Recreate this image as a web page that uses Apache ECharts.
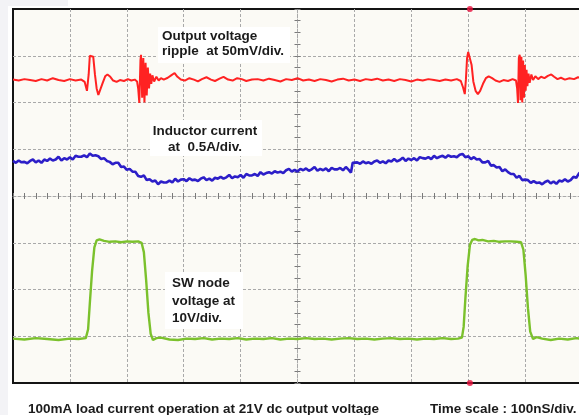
<!DOCTYPE html>
<html><head><meta charset="utf-8">
<script src="https://cdn.jsdelivr.net/npm/echarts@6/dist/echarts.min.js"></script>
<style>html,body{margin:0;padding:0;background:#fff}#c{width:579px;height:415px}</style>
</head><body><div id="c"></div>
<script>
// Time axis in ns relative to screen centre (100 ns/div), vertical in screen divisions
const xTicks = {min: -500, max: 500, step: 100};
const yTicks = {min: -4, max: 4, step: 1};

const redRipple = [[-500,2.49],[-490,2.47],[-480,2.50],[-470,2.48],[-460,2.46],[-450,2.50],[-440,2.47],[-430,2.52],[-420,2.48],[-410,2.46],[-400,2.50],[-390,2.47],[-380,2.49],[-374,2.44],[-370,2.25],[-367,2.6],[-365,3.0],[-362,3.04],[-359,2.98],[-356,2.6],[-353,2.3],[-350,2.16],[-347,2.2],[-343,2.4],[-338,2.56],[-334,2.6],[-329,2.55],[-324,2.47],[-318,2.44],[-312,2.48],[-305,2.46],[-298,2.5],[-292,2.47],[-286,2.49],[-282,2.45],[-280,2.3],[-278,1.99],[-276,2.9],[-275,3.02],[-273,2.1],[-271,2.95],[-269,2.0],[-267,2.85],[-265,2.15],[-263,2.75],[-261,2.3],[-259,2.62],[-257,2.4],[-255,2.58],[-252,2.45],[-248,2.55],[-244,2.47],[-240,2.52],[-235,2.49],[-228,2.53],[-222,2.58],[-216,2.63],[-211,2.55],[-205,2.49],[-198,2.47],[-190,2.52],[-182,2.49],[-175,2.45],[-168,2.50],[-160,2.54],[-152,2.49],[-145,2.46],[-137,2.51],[-130,2.55],[-122,2.49],[-114,2.47],[-106,2.52],[-98,2.50],[-90,2.46],[-80,2.49],[-70,2.50],[-60,2.47],[-50,2.51],[-40,2.48],[-30,2.45],[-20,2.50],[-10,2.48],[0,2.52],[10,2.47],[20,2.49],[30,2.46],[40,2.50],[50,2.48],[60,2.45],[70,2.49],[80,2.51],[90,2.47],[100,2.49],[110,2.46],[120,2.50],[130,2.48],[140,2.51],[150,2.47],[160,2.49],[170,2.46],[180,2.50],[190,2.48],[200,2.45],[210,2.49],[220,2.47],[230,2.50],[240,2.48],[250,2.46],[260,2.49],[270,2.47],[280,2.50],[287,2.46],[291,2.32],[294,2.18],[296,2.5],[298,2.95],[300,3.08],[303,3.05],[306,2.8],[309,2.45],[313,2.25],[317,2.18],[321,2.25],[326,2.4],[331,2.52],[336,2.56],[342,2.52],[348,2.47],[355,2.44],[362,2.48],[370,2.46],[378,2.5],[384,2.47],[386,2.3],[387.5,1.99],[389,2.95],[390.5,3.02],[392,2.05],[393.5,2.98],[395,2.0],[396.5,2.9],[398,2.1],[399.5,2.8],[401,2.25],[402.5,2.7],[404,2.35],[406,2.62],[408,2.42],[411,2.6],[414,2.48],[418,2.56],[423,2.5],[428,2.55],[434,2.52],[440,2.57],[446,2.6],[451,2.55],[457,2.5],[463,2.53],[470,2.49],[478,2.52],[486,2.5],[493,2.54],[500,2.52]];

const blueCurrent = [[-500,0.75],[-495,0.71],[-490,0.76],[-485,0.72],[-480,0.73],[-475,0.70],[-470,0.75],[-465,0.78],[-460,0.72],[-455,0.76],[-450,0.71],[-445,0.78],[-440,0.75],[-435,0.80],[-430,0.76],[-425,0.78],[-420,0.84],[-415,0.76],[-410,0.81],[-405,0.78],[-400,0.83],[-395,0.78],[-390,0.86],[-385,0.84],[-380,0.84],[-375,0.87],[-370,0.83],[-365,0.91],[-360,0.86],[-355,0.87],[-350,0.85],[-345,0.79],[-340,0.81],[-335,0.75],[-330,0.73],[-325,0.68],[-320,0.71],[-315,0.71],[-310,0.62],[-305,0.63],[-300,0.56],[-295,0.58],[-290,0.52],[-285,0.52],[-280,0.43],[-275,0.41],[-270,0.44],[-265,0.34],[-260,0.36],[-255,0.31],[-250,0.33],[-245,0.25],[-240,0.31],[-235,0.29],[-230,0.29],[-225,0.33],[-220,0.29],[-215,0.37],[-210,0.31],[-205,0.35],[-200,0.36],[-195,0.32],[-190,0.38],[-185,0.34],[-180,0.35],[-175,0.32],[-170,0.37],[-165,0.40],[-160,0.34],[-155,0.37],[-150,0.33],[-145,0.39],[-140,0.37],[-135,0.41],[-130,0.37],[-125,0.40],[-120,0.45],[-115,0.38],[-110,0.42],[-105,0.40],[-100,0.45],[-95,0.39],[-90,0.47],[-85,0.44],[-80,0.44],[-75,0.47],[-70,0.43],[-65,0.51],[-60,0.46],[-55,0.49],[-50,0.51],[-45,0.48],[-40,0.53],[-35,0.50],[-30,0.52],[-25,0.49],[-20,0.55],[-15,0.58],[-10,0.52],[-5,0.56],[0,0.52],[5,0.58],[10,0.55],[15,0.59],[20,0.54],[25,0.57],[30,0.62],[35,0.54],[40,0.58],[45,0.55],[50,0.59],[55,0.53],[60,0.60],[65,0.57],[70,0.57],[75,0.60],[80,0.55],[85,0.62],[90,0.56],[94,0.50],[97,0.71],[100,0.71],[105,0.72],[110,0.69],[115,0.74],[120,0.70],[125,0.72],[130,0.69],[135,0.74],[140,0.76],[145,0.71],[150,0.74],[155,0.70],[160,0.76],[165,0.74],[170,0.79],[175,0.74],[180,0.77],[185,0.82],[190,0.75],[195,0.80],[200,0.77],[205,0.81],[210,0.76],[215,0.83],[220,0.81],[225,0.80],[230,0.83],[235,0.79],[240,0.86],[245,0.81],[250,0.84],[255,0.86],[260,0.82],[265,0.87],[270,0.84],[275,0.85],[280,0.83],[285,0.88],[290,0.90],[295,0.83],[300,0.85],[305,0.79],[310,0.83],[315,0.78],[320,0.79],[325,0.72],[330,0.72],[335,0.75],[340,0.65],[345,0.66],[350,0.61],[355,0.62],[360,0.53],[365,0.57],[370,0.51],[375,0.47],[380,0.47],[385,0.39],[390,0.43],[395,0.34],[400,0.35],[405,0.34],[410,0.28],[415,0.32],[420,0.28],[425,0.29],[430,0.25],[435,0.30],[440,0.33],[445,0.27],[450,0.31],[455,0.26],[460,0.33],[465,0.31],[470,0.36],[475,0.31],[480,0.34],[485,0.41],[490,0.39],[495,0.49],[500,0.50]];

const greenSwNode = [[-500,-3.05],[-480,-3.07],[-460,-3.04],[-440,-3.06],[-420,-3.08],[-400,-3.05],[-385,-3.06],[-372,-3.04],[-368,-2.85],[-365,-2.3],[-361,-1.6],[-357,-1.1],[-353,-0.95],[-348,-0.93],[-340,-0.96],[-330,-0.98],[-320,-0.97],[-310,-0.99],[-300,-0.97],[-290,-0.98],[-280,-0.97],[-274,-1.0],[-270,-1.2],[-266,-1.8],[-262,-2.5],[-258,-2.95],[-254,-3.08],[-248,-3.04],[-240,-3.03],[-225,-3.07],[-210,-3.08],[-195,-3.05],[-180,-3.06],[-165,-3.04],[-150,-3.07],[-135,-3.05],[-120,-3.06],[-105,-3.04],[-90,-3.07],[-75,-3.05],[-60,-3.06],[-45,-3.04],[-30,-3.07],[-15,-3.05],[0,-3.06],[15,-3.04],[30,-3.06],[45,-3.05],[60,-3.07],[75,-3.05],[90,-3.04],[105,-3.06],[120,-3.05],[135,-3.07],[150,-3.05],[165,-3.04],[180,-3.06],[195,-3.05],[210,-3.07],[225,-3.05],[240,-3.06],[255,-3.04],[270,-3.06],[282,-3.05],[289,-3.03],[292,-2.8],[295,-2.2],[299,-1.5],[303,-1.05],[307,-0.94],[312,-0.92],[318,-0.95],[325,-0.94],[335,-0.97],[345,-0.96],[355,-0.98],[365,-0.97],[375,-0.97],[385,-0.98],[393,-0.99],[397,-1.15],[401,-1.7],[405,-2.4],[409,-2.9],[414,-3.06],[420,-3.02],[430,-3.05],[445,-3.08],[460,-3.05],[475,-3.07],[490,-3.04],[500,-3.06]];

const triggerMarks = [[303,4],[303,-4]];

const labels = {
  ripple: 'Output voltage\nripple  at 50mV/div.',
  current: 'Inductor current\nat  0.5A/div.',
  sw: 'SW node\nvoltage at\n10V/div.',
  caption: '100mA load current operation at 21V dc output voltage',
  timescale: 'Time scale : 100nS/div.'
};

const FONT = 'bold 13.5px "Liberation Sans", Arial, sans-serif';
const gridLine = {color: '#a9a9a9', width: 1, type: [3, 2]};
const tickLine = {color: '#7a7a7a', width: 1};

function xAx(inside, main) {
  return {type: 'value', min: xTicks.min, max: xTicks.max, interval: xTicks.step, position: 'bottom',
    axisLine: {show: main, onZero: true, onZeroAxisIndex: 0, lineStyle: gridLine},
    axisTick: {show: true, inside: inside, length: 3, lineStyle: tickLine},
    minorTick: {show: true, splitNumber: 5, length: 3, lineStyle: tickLine},
    axisLabel: {show: false},
    splitLine: {show: main, showMinLine: false, showMaxLine: false, lineStyle: gridLine}};
}
function yAx(inside, main) {
  return {type: 'value', min: yTicks.min, max: yTicks.max, interval: yTicks.step, position: 'left',
    axisLine: {show: main, onZero: true, onZeroAxisIndex: 0, lineStyle: gridLine},
    axisTick: {show: true, inside: inside, length: 3, lineStyle: tickLine},
    minorTick: {show: true, splitNumber: 4, length: 3, lineStyle: tickLine},
    axisLabel: {show: false},
    splitLine: {show: main, showMinLine: false, showMaxLine: false, lineStyle: gridLine}};
}

function box(x, y, w, h) {
  return {type: 'rect', z: 20, shape: {x: x, y: y, width: w, height: h}, style: {fill: '#ffffff'}};
}
function txt(text, x, y, align, lh) {
  return {type: 'text', z: 21, x: x, y: y, style: {text: text, font: FONT, fill: '#1b1b1b', align: align, verticalAlign: 'top', lineHeight: lh}};
}

const chart = echarts.init(document.getElementById('c'), null, {renderer: 'canvas'});
chart.setOption({
  animation: false,
  backgroundColor: '#ffffff',
  grid: {left: 13, top: 9, width: 569, height: 374, outerBoundsMode: 'none', containLabel: false, show: true, backgroundColor: '#fbfaf5', borderColor: '#141414', borderWidth: 2},
  xAxis: [xAx(true, true), xAx(false, false)],
  yAxis: [yAx(true, true), yAx(false, false)],
  series: [
    {type: 'line', data: redRipple, showSymbol: false, lineStyle: {color: '#ff2222', width: 2}, z: 5},
    {type: 'line', data: blueCurrent, showSymbol: false, lineStyle: {color: '#2c1ec8', width: 2.6}, z: 5},
    {type: 'line', data: greenSwNode, showSymbol: false, lineStyle: {color: '#7bc12c', width: 2.4}, z: 5},
    {type: 'scatter', data: triggerMarks, symbolSize: 6, clip: false, itemStyle: {color: '#e8103c'}, z: 6}
  ],
  graphic: [
    {type: 'rect', z: 1, shape: {x: 0, y: 0, width: 8, height: 415}, style: {fill: '#f3f3f6'}},
    {type: 'rect', z: 1, shape: {x: 0, y: 0, width: 68, height: 6}, style: {fill: '#f3f3f6'}},
    box(158, 27, 132, 36),
    txt(labels.ripple, 162, 29, 'left', 15),
    box(150, 120, 112, 36),
    txt(labels.current, 205, 123, 'center', 16),
    box(165, 272, 78, 57),
    txt(labels.sw, 172, 275, 'left', 17.5),
    txt(labels.caption, 28, 402, 'left', 15),
    txt(labels.timescale, 430, 402, 'left', 15)
  ]
});
</script></body></html>
